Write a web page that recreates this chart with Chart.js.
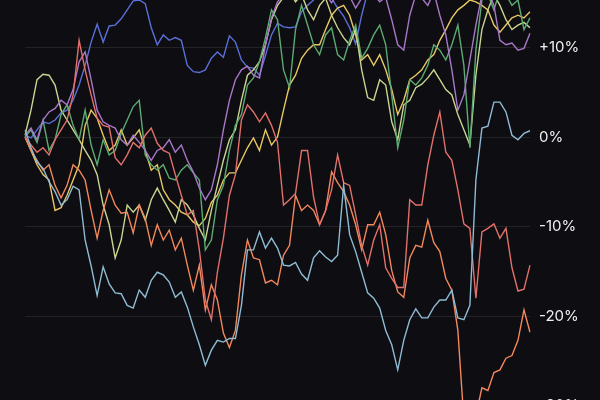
<!DOCTYPE html>
<html>
<head>
<meta charset="utf-8">
<script src="https://cdn.jsdelivr.net/npm/chart.js@4"></script>
<style>
  html, body { margin: 0; padding: 0; background: #0e0d12; overflow: hidden; }
  #wrap { width: 600px; height: 420px; }
</style>
</head>
<body>
<div id="wrap"><canvas id="perf" width="600" height="420"></canvas></div>
<script>
// % change since start (one value per trading step)
const blue = [0.2,-0.1,0.8,1.7,1.5,1.9,2.7,3.0,4.1,5.8,8.0,10.6,12.6,10.6,12.4,12.5,13.2,14.2,15.2,15.3,
  14.9,12.2,10.3,11.4,10.8,11.1,10.8,8.0,7.3,7.2,7.5,8.8,9.5,8.9,11.3,10.6,8.6,7.8,7.7,6.9,
  9.1,11.4,12.7,12.3,12.2,12.3,14.0,14.7,15.3,15.9,15.6,15.5,14.4,13.5,12.2,10.4,13.6,16.2,16.9,17.5,
  16.6,18.1,17.3,18.7,17.8,19.2,18.4,19.8,18.9,19.6,18.7,20.3,19.8,19.3,20.7,20.0,20.9,20.2,21.4,20.7,
  21.1,20.4,21.8,20.9,21.3];
const purple = [0.2,1.0,-0.3,1.9,2.8,3.2,4.1,3.6,5.3,8.4,9.5,6.4,3.0,1.7,1.3,1.0,-0.3,-0.9,0.2,-0.6,
  -1.5,-2.6,-1.5,-1.2,-0.3,-1.7,-0.9,-2.6,-3.9,-5.7,-7.0,-5.9,-3.1,0.8,4.1,6.4,7.5,7.9,6.9,6.6,
  10.3,13.3,15.1,15.9,16.4,15.5,17.0,16.2,17.5,16.6,15.9,15.0,16.0,16.6,15.7,14.4,15.5,16.4,15.9,15.1,
  15.6,13.1,10.3,9.7,13.6,15.9,15.5,14.7,16.2,13.6,11.4,7.5,3.0,4.7,8.6,12.5,15.9,16.4,14.7,10.8,
  10.3,10.5,9.7,9.9,11.6];
const green = [0.0,0.8,-0.6,1.9,-1.5,-0.3,2.5,3.6,1.3,-0.3,3.0,-0.9,-3.1,-0.3,-2.0,-1.5,0.4,1.9,3.4,4.1,
  -2.0,-3.1,-3.7,-3.1,-4.6,-4.8,-3.7,-3.1,-4.0,-4.8,-12.6,-11.5,-7.0,-5.4,-1.5,1.3,2.5,5.8,6.6,8.4,
  11.1,14.2,13.1,7.5,5.5,12.0,14.7,12.5,10.3,9.2,11.4,12.2,9.2,8.6,10.8,12.5,8.8,9.9,11.4,12.5,
  10.3,4.7,-1.2,1.9,6.4,5.8,6.6,8.0,10.3,9.7,8.6,10.3,12.5,8.0,-1.2,9.7,15.3,15.9,14.2,16.4,
  15.9,14.7,15.3,12.0,13.3];
const khaki = [0.2,3.0,6.4,7.0,6.9,5.8,3.0,1.9,0.8,-0.3,-1.5,-2.6,-4.2,-7.6,-9.8,-13.5,-11.5,-7.6,-8.4,-7.6,
  -9.3,-7.0,-5.7,-7.0,-8.2,-9.5,-7.0,-7.6,-8.7,-10.2,-11.5,-8.2,-5.4,-2.6,-0.3,0.8,4.1,6.9,7.5,8.4,
  10.3,13.1,14.7,15.6,16.2,15.1,15.9,14.2,13.1,14.7,15.5,13.6,12.2,11.1,10.3,12.0,7.5,4.4,4.1,6.4,
  5.8,1.7,-0.3,3.6,4.1,5.5,5.9,6.6,7.5,6.4,5.3,4.7,2.5,0.8,-0.9,6.9,12.0,14.2,15.9,14.7,
  13.1,12.0,12.5,12.8,12.2];
const yellow = [0.0,-1.5,-3.1,-4.2,-4.8,-8.2,-7.9,-6.5,-4.8,-3.1,1.3,3.0,2.1,0.2,-1.5,-0.9,0.8,-0.9,-0.1,0.8,
  -1.5,-3.7,-3.1,-5.9,-7.0,-7.6,-8.4,-8.7,-9.5,-9.9,-9.1,-7.3,-6.5,-4.8,-4.0,-4.0,-2.6,-1.2,-0.1,-1.5,
  0.8,-0.9,0.0,3.0,5.8,6.9,8.8,9.7,10.3,10.3,12.0,13.6,14.4,14.7,13.6,11.4,8.6,9.2,8.0,9.2,
  7.5,5.3,2.5,4.1,6.4,6.9,7.5,8.6,9.2,10.8,12.0,13.3,14.2,14.7,15.3,15.1,14.7,14.2,12.5,11.7,
  12.5,13.3,13.6,13.3,14.0];
const cyan = [0.8,-1.2,-2.8,-3.5,-5.0,-6.1,-7.6,-7.0,-5.5,-5.9,-11.5,-14.4,-17.7,-14.5,-16.4,-17.4,-17.5,-18.8,-19.1,-17.1,
  -17.9,-16.0,-15.1,-15.4,-16.2,-17.9,-17.3,-19.0,-21.2,-23.2,-25.5,-23.8,-22.7,-22.9,-22.5,-22.5,-18.8,-12.6,-12.6,-10.6,
  -12.4,-11.3,-12.4,-14.3,-14.4,-14.0,-15.3,-16.0,-13.5,-12.7,-13.4,-13.9,-13.2,-5.4,-10.9,-12.8,-15.1,-17.4,-18.0,-19.1,
  -21.6,-23.2,-26.0,-22.7,-20.4,-19.2,-20.2,-20.2,-19.0,-18.2,-18.2,-17.1,-20.2,-20.4,-18.8,-4.8,1.0,1.2,3.9,3.9,
  2.8,0.2,-0.3,0.4,0.7];
const salmon = [0.0,-0.9,-1.7,-1.2,-2.0,-0.3,0.8,1.9,4.7,10.8,7.5,4.7,2.1,1.3,1.1,-2.3,-3.1,-2.0,-0.6,-1.2,
  0.2,1.0,-0.7,-1.5,-1.8,-4.2,-6.5,-8.7,-8.2,-12.6,-18.2,-20.4,-15.1,-11.3,-6.5,-4.2,1.9,3.6,2.8,1.7,
  2.7,1.3,-0.6,-7.6,-7.0,-6.3,-1.5,-1.5,-6.7,-9.8,-8.2,-5.9,-2.0,-5.1,-5.4,-8.7,-12.1,-14.3,-11.5,-9.8,
  -14.6,-15.8,-16.8,-16.8,-7.0,-7.6,-7.6,-3.1,0.2,2.8,-1.7,-2.6,-5.9,-9.7,-10.2,-18.0,-10.6,-10.2,-9.7,-11.3,
  -10.2,-14.6,-17.2,-17.0,-14.3];
const orange = [0.0,-1.5,-2.6,-3.7,-3.1,-5.4,-6.8,-5.4,-3.1,-3.7,-4.8,-8.2,-11.3,-8.2,-5.9,-7.6,-8.5,-8.4,-10.7,-7.6,
  -9.1,-12.1,-9.8,-11.5,-10.4,-12.6,-11.3,-14.3,-17.1,-14.3,-19.3,-16.5,-18.2,-21.9,-23.5,-21.6,-15.4,-11.5,-13.5,-13.7,
  -16.3,-16.0,-16.5,-13.2,-12.1,-6.5,-8.2,-7.6,-8.2,-9.8,-8.2,-3.9,-5.1,-6.1,-7.6,-9.8,-12.6,-9.8,-9.8,-8.4,
  -10.9,-14.9,-17.3,-17.9,-13.5,-12.1,-12.3,-9.3,-11.8,-12.8,-15.8,-17.1,-21.6,-31.6,-32.7,-31.1,-28.0,-28.3,-26.3,-26.0,
  -24.7,-24.4,-22.7,-19.3,-21.8];

const tickValues = [10, 0, -10, -20, -30];

const series = [
  { data: cyan, color: '#8fbcd4' },
  { data: salmon, color: '#e2706b' },
  { data: orange, color: '#f2885c' },
  { data: purple, color: '#a877c8' },
  { data: green, color: '#5cab72' },
  { data: khaki, color: '#cad58f' },
  { data: yellow, color: '#e8c863' },
  { data: blue, color: '#5a6fd8' },
];

new Chart(document.getElementById('perf'), {
  type: 'line',
  data: {
    labels: blue.map((_, i) => i),
    datasets: series.map(s => ({
      data: s.data,
      borderColor: s.color,
      borderWidth: 1.4,
      pointRadius: 0,
      tension: 0,
      fill: false,
    })),
  },
  options: {
    responsive: false,
    animation: false,
    layout: { padding: { left: 25, top: 0, right: 0, bottom: 0 } },
    plugins: { legend: { display: false }, tooltip: { enabled: false } },
    scales: {
      x: { display: false, offset: false },
      y: {
        position: 'right',
        min: -31.6,
        max: 15.3,
        border: { display: false },
        grid: { color: 'rgba(255,255,255,0.09)', lineWidth: 1, drawTicks: false },
        afterBuildTicks: (scale) => { scale.ticks = tickValues.map(v => ({ value: v })); },
        afterFit: (scale) => { scale.width = 70; scale.paddingTop = 0; scale.paddingBottom = 0; },
        ticks: {
          padding: 9,
          color: '#f0f0f0',
          font: { family: 'Inter, "Noto Sans", sans-serif', size: 15 },
          callback: (v) => (v > 0 ? '+' + v + '%' : v + '%'),
        },
      },
    },
  },
});
</script>
</body>
</html>
